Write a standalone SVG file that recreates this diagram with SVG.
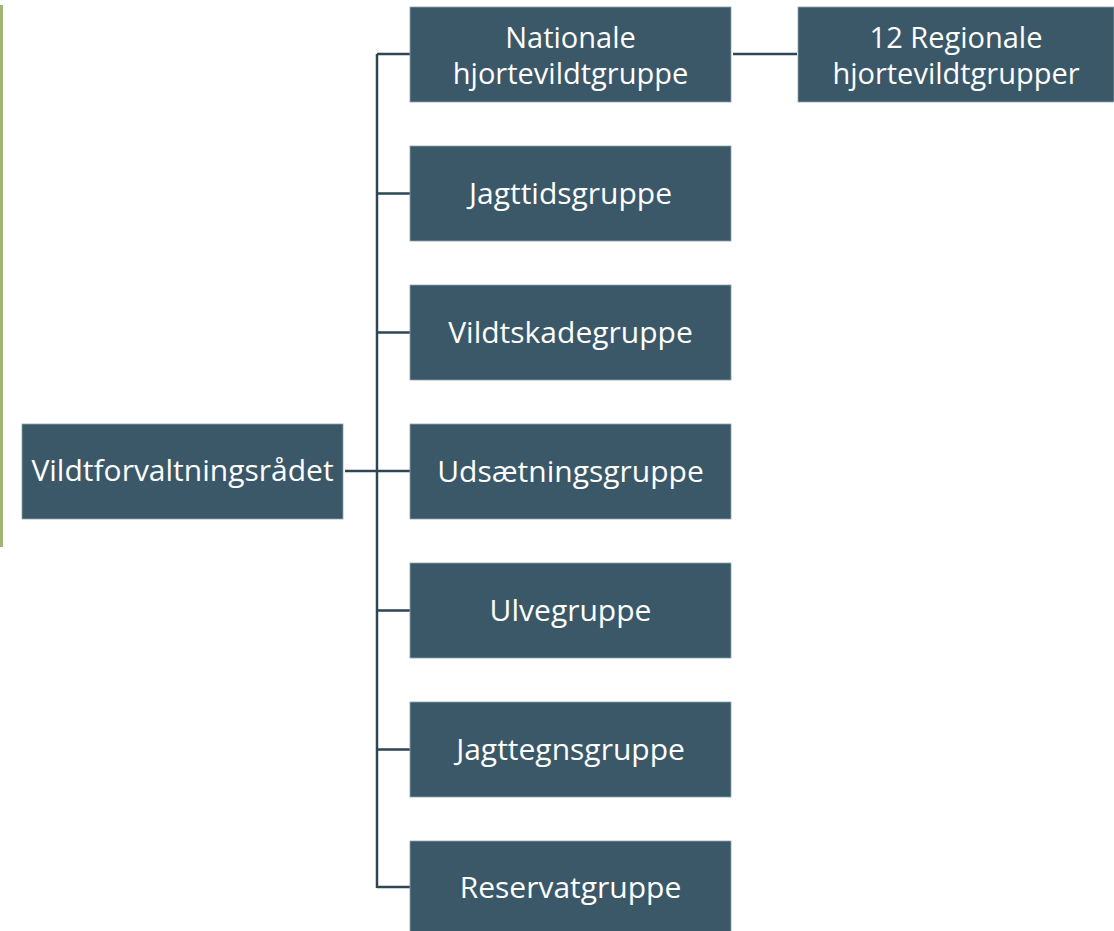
<svg xmlns="http://www.w3.org/2000/svg" width="1114" height="931" viewBox="0 0 1114 931">
<style>
.box{fill:#3A5868;stroke:#8FA3AE;stroke-width:0.8}
.t{font-family:"Open Sans","DejaVu Sans",sans-serif;font-size:30px;fill:#FFFFFF;text-anchor:middle;dominant-baseline:central}
.t2{font-size:29px}
.c{fill:none;stroke:#2E4654;stroke-width:2.5}
</style>
<rect width="1114" height="931" fill="#FFFFFF"/>
<line x1="1.5" y1="5" x2="1.5" y2="547" stroke="#A3B67A" stroke-width="3"/>
<g id="connectors">
<path class="c" d="M377 54 V888"/>
<path class="c" d="M345 471 H410"/>
<path class="c" d="M377 54 H410 M377 193.5 H410 M377 332.5 H410 M377 610.5 H410 M377 749.5 H410 M377 887 H410"/>
<path class="c" d="M733 54 H797"/>
</g>
<g id="n0"><rect class="box" x="22" y="424" width="321" height="95"/><text class="t" x="182.5" y="469">Vildtforvaltningsrådet</text></g>
<g id="n1"><rect class="box" x="410" y="7" width="321" height="95"/><text class="t t2" x="570.5" y="36">Nationale</text><text class="t t2" x="570.5" y="72">hjortevildtgruppe</text></g>
<g id="n2"><rect class="box" x="798" y="7" width="316" height="95"/><text class="t t2" x="956" y="36">12 Regionale</text><text class="t t2" x="956" y="72">hjortevildtgrupper</text></g>
<g id="n3"><rect class="box" x="410" y="146" width="321" height="95"/><text class="t" x="570.5" y="192">Jagttidsgruppe</text></g>
<g id="n4"><rect class="box" x="410" y="285" width="321" height="95"/><text class="t" x="570.5" y="331">Vildtskadegruppe</text></g>
<g id="n5"><rect class="box" x="410" y="424" width="321" height="95"/><text class="t" x="570.5" y="470">Udsætningsgruppe</text></g>
<g id="n6"><rect class="box" x="410" y="563" width="321" height="95"/><text class="t" x="570.5" y="609">Ulvegruppe</text></g>
<g id="n7"><rect class="box" x="410" y="702" width="321" height="95"/><text class="t" x="570.5" y="748">Jagttegnsgruppe</text></g>
<g id="n8"><rect class="box" x="410" y="841" width="321" height="95"/><text class="t" x="570.5" y="886">Reservatgruppe</text></g>
</svg>
